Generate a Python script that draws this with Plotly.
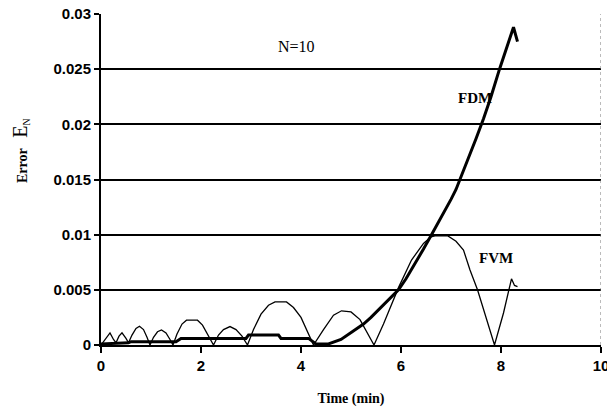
import plotly.graph_objects as go

# FVM series (thin line)
fvm_t = [0.0, 0.1, 0.18, 0.25, 0.3, 0.36, 0.42, 0.5, 0.55, 0.62, 0.7, 0.77, 0.85, 0.92, 0.98,
         1.05, 1.13, 1.21, 1.3, 1.38, 1.44, 1.52, 1.62, 1.71, 1.93, 2.03, 2.13, 2.25,
         2.35, 2.45, 2.58, 2.7, 2.82, 2.93, 3.05, 3.2, 3.35, 3.48, 3.71, 3.85, 4.0, 4.12, 4.25,
         4.45, 4.65, 4.81, 5.0, 5.18, 5.35, 5.46, 5.65, 5.88, 5.95, 6.21, 6.45, 6.6, 6.68, 6.93,
         7.1, 7.25, 7.38, 7.53, 7.65, 7.87, 8.05, 8.16, 8.21, 8.27, 8.33]
fvm_e = [0.0, 0.0006, 0.0011, 0.0005, 0.0002, 0.0008, 0.0011, 0.0006, 0.0002, 0.0009, 0.0015, 0.0017, 0.0014, 0.0007, 0.0,
         0.0007, 0.0012, 0.00137, 0.0011, 0.0005, 0.0, 0.0010, 0.0019, 0.00225, 0.00225, 0.0018, 0.0010, 0.0,
         0.0009, 0.0014, 0.00167, 0.0014, 0.0008, 0.0, 0.0014, 0.0028, 0.0036, 0.0039, 0.0039, 0.0034, 0.0025, 0.0013, 0.0,
         0.0014, 0.0027, 0.0031, 0.0030, 0.0023, 0.0009, 0.0, 0.0019, 0.0045, 0.0052, 0.0077, 0.0092, 0.0098, 0.0099, 0.0099,
         0.0094, 0.0086, 0.0068, 0.005, 0.0032, 0.0, 0.0029, 0.005, 0.006, 0.0054, 0.0053]

# FDM series (thick line)
fdm_t = [0.0, 0.55, 0.6, 1.5, 1.6, 2.9, 2.95, 3.55, 3.6, 4.15, 4.3, 4.55, 4.8, 5.05, 5.25, 5.4,
         5.6, 5.8, 5.95, 6.1, 6.3, 6.45, 6.61, 6.8, 6.9, 7.0, 7.1, 7.17, 7.3, 7.4, 7.5, 7.65, 7.8,
         7.97, 8.1, 8.25, 8.33]
fdm_e = [0.0001, 0.0002, 0.0003, 0.0003, 0.0006, 0.0006, 0.0009, 0.0009, 0.0006, 0.0006, 0.0001, 0.0001,
         0.0005, 0.0013, 0.0019, 0.0025, 0.0034, 0.0043, 0.0050, 0.0060, 0.0075, 0.0087, 0.0100,
         0.0115, 0.0123, 0.0132, 0.0141, 0.0149, 0.0163, 0.0175, 0.0187, 0.0205, 0.0225,
         0.0250, 0.0268, 0.0288, 0.0275]

x_ticks = [0, 2, 4, 6, 8, 10]
y_ticks = [0, 0.005, 0.01, 0.015, 0.02, 0.025, 0.03]
y_tick_text = ["0", "0.005", "0.01", "0.015", "0.02", "0.025", "0.03"]

fig = go.Figure()
fig.add_trace(go.Scatter(x=fvm_t, y=fvm_e, mode="lines", name="FVM",
                         line=dict(color="black", width=1.3)))
fig.add_trace(go.Scatter(x=fdm_t, y=fdm_e, mode="lines", name="FDM",
                         line=dict(color="black", width=3)))

tick_font = dict(family="Liberation Sans, Arial, sans-serif", size=15, color="black")
serif = "Liberation Serif, Times New Roman, serif"

fig.update_layout(
    width=607, height=410,
    margin=dict(l=101, r=6, t=14, b=65, autoexpand=False),
    paper_bgcolor="white", plot_bgcolor="white",
    showlegend=False,
    xaxis=dict(range=[0, 10], tickvals=x_ticks, ticktext=["<b>%d</b>" % v for v in x_ticks],
               showgrid=False, zeroline=False, showline=True, linecolor="black", linewidth=2,
               ticks="outside", ticklen=6, tickwidth=1.5, tickcolor="black",
               tickfont=tick_font, fixedrange=True, ticklabeloverflow="allow", automargin=False,
               title=dict(text="<b>Time (min)</b>", font=dict(family=serif, size=14, color="black"),
                          standoff=20)),
    yaxis=dict(range=[0, 0.03], tickvals=y_ticks, ticktext=["<b>%s</b>" % t for t in y_tick_text],
               showgrid=True, gridcolor="black", gridwidth=1.5, zeroline=False,
               showline=True, linecolor="black", linewidth=2,
               ticks="outside", ticklen=5, tickwidth=1.5, tickcolor="black",
               tickfont=tick_font, fixedrange=True, automargin=False),
)

# right border dotted
fig.add_shape(type="line", xref="x", yref="y", x0=10, x1=10, y0=0, y1=0.03,
              line=dict(color="#777777", width=1, dash="dot"))

fig.add_annotation(x=3.9, y=0.0271, xref="x", yref="y", text="N=10", showarrow=False,
                   font=dict(family=serif, size=16, color="black"))
fig.add_annotation(x=7.48, y=0.0224, xref="x", yref="y", text="<b>FDM</b>", showarrow=False,
                   font=dict(family=serif, size=15, color="black"))
fig.add_annotation(x=7.9, y=0.0079, xref="x", yref="y", text="<b>FVM</b>", showarrow=False,
                   font=dict(family=serif, size=15, color="black"))
fig.add_annotation(x=-0.162, y=0.586, xref="paper", yref="paper", textangle=-90,
                   xanchor="center", yanchor="middle",
                   text="<b>Error</b>&nbsp;&nbsp;&nbsp;<span style='font-size:20px'>E</span><sub>N</sub>",
                   showarrow=False, font=dict(family=serif, size=14, color="black"))

fig.write_html("out.html")
